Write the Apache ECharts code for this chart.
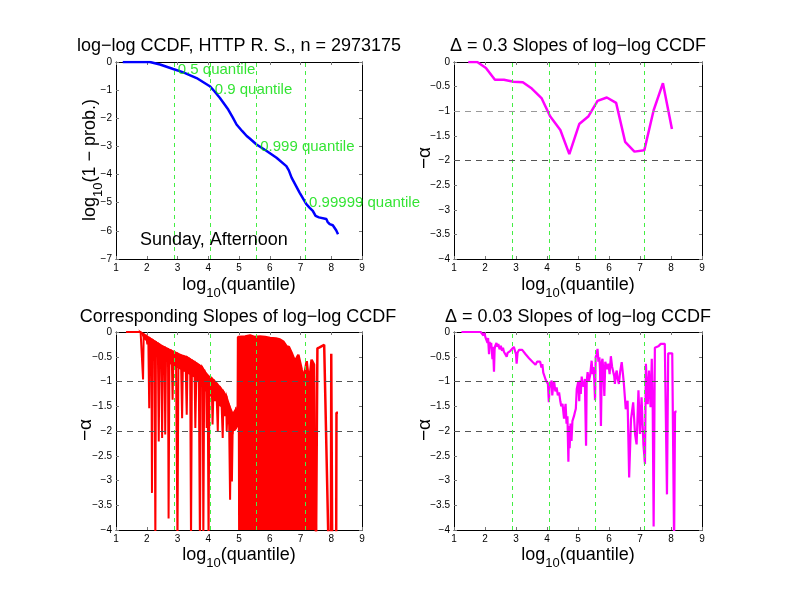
<!DOCTYPE html>
<html><head><meta charset="utf-8">
<script src="https://cdn.jsdelivr.net/npm/echarts@6/dist/echarts.min.js"></script>
<style>html,body{margin:0;padding:0;background:#fff}#c{width:792px;height:612px}</style>
</head><body><div id="c"></div>
<script>
// ---------- data ----------
var xTicks = [1,2,3,4,5,6,7,8,9];
var quantileX = [2.88, 4.08, 5.56, 7.15];
var quantileNames = ['0.5 quantile','0.9 quantile','0.999 quantile','0.99999 quantile'];
var quantileY = [-0.28, -1.0, -3.02, -5.01];
var refLevels = [-1, -2];

var ccdf = [[1.22,0],[1.6,0],[2.10,0],[2.43,-0.09],[2.86,-0.25],[3.19,-0.37],[3.62,-0.57],[4.05,-0.86],
 [4.2,-1.04],[4.38,-1.28],[4.65,-1.69],[4.8,-1.98],[4.92,-2.22],[5.1,-2.45],[5.25,-2.63],[5.35,-2.72],[5.57,-2.93],
 [5.90,-3.16],[6.22,-3.40],[6.54,-3.70],[6.62,-3.85],[6.71,-4.11],[6.97,-4.64],[7.19,-5.05],[7.30,-5.18],
 [7.40,-5.29],[7.49,-5.47],[7.6,-5.52],[7.84,-5.58],[7.88,-5.68],[7.95,-5.76],[8.05,-5.8],[8.11,-5.82],[8.16,-5.98],[8.22,-6.12]];

var slope03 = [[1.46,0],[1.75,0],[2.03,-0.12],[2.32,-0.36],[2.61,-0.36],[2.92,-0.40],[3.22,-0.41],[3.51,-0.54],
 [3.83,-0.74],[4.10,-1.10],[4.43,-1.38],[4.72,-1.87],[5.04,-1.26],[5.34,-1.10],[5.63,-0.79],[5.93,-0.72],
 [6.23,-0.83],[6.52,-1.62],[6.82,-1.82],[7.14,-1.79],[7.44,-0.98],[7.74,-0.43],[8.03,-1.36]];

// raw slopes: solid body (top / bottom edges) of the dense oscillation below x = 5
var bodyX      = [1.33, 1.8, 1.9, 2.0, 2.1, 2.2, 2.3, 2.4, 2.5, 2.6, 2.7, 2.8, 2.9, 3.0, 3.1, 3.2, 3.3, 3.4, 3.5, 3.6, 3.7, 3.8, 3.9, 4.0, 4.1, 4.2, 4.3, 4.4, 4.5, 4.6, 4.7, 4.8, 4.9, 4.96];
var bodyTop    = [0, 0, -0.04, -0.08, -0.12, -0.16, -0.2, -0.24, -0.28, -0.31, -0.34, -0.37, -0.40, -0.43, -0.46, -0.48, -0.50, -0.54, -0.58, -0.62, -0.66, -0.70, -0.80, -0.88, -0.92, -0.98, -1.05, -1.12, -1.2, -1.3, -1.5, -1.65, -1.55, -1.6];
var bodyBottom = [0, 0, -0.1, -0.18, -0.26, -0.33, -0.4, -0.46, -0.52, -0.57, -0.61, -0.64, -0.68, -0.71, -0.74, -0.77, -0.8, -0.84, -0.88, -0.93, -0.98, -1.03, -1.12, -1.2, -1.27, -1.33, -1.42, -1.48, -1.58, -1.68, -1.85, -2.0, -1.95, -1.9];
// raw slopes: individual downward spikes below x = 5
var slopeRawA = [[1.33,0],[1.80,0],[1.85,-0.03],[1.88,-0.96],[1.90,-0.05],[1.95,-0.15],[1.98,-0.06],[2.02,-0.25],[2.05,-0.1],
 [2.08,-1.54],[2.10,-0.12],[2.13,-0.35],[2.15,-0.13],[2.17,-3.25],[2.19,-0.15],[2.22,-0.4],[2.25,-0.17],[2.28,-4.3],
 [2.30,-0.19],[2.33,-0.45],[2.36,-0.21],[2.39,-2.21],[2.42,-0.24],[2.45,-0.5],[2.47,-0.26],[2.50,-2.14],[2.53,-0.28],
 [2.56,-0.55],[2.58,-0.30],[2.60,-2.07],[2.63,-0.32],[2.67,-0.6],[2.69,-0.34],[2.71,-3.77],[2.74,-0.36],[2.78,-0.65],
 [2.81,-0.38],[2.84,-1.37],[2.87,-0.40],[2.92,-0.7],[2.95,-0.42],[3.0,-4.3],[3.03,-0.44],[3.08,-0.75],[3.11,-0.46],
 [3.15,-1.74],[3.18,-0.48],[3.22,-0.8],[3.26,-0.50],[3.30,-1.67],[3.33,-0.52],[3.38,-0.85],[3.41,-0.54],[3.44,-4.3],
 [3.47,-0.56],[3.52,-0.9],[3.55,-0.58],[3.58,-1.94],[3.62,-0.62],[3.66,-1.0],[3.69,-0.65],[3.73,-4.3],[3.76,-0.68],
 [3.80,-1.1],[3.82,-0.72],[3.84,-4.3],[3.87,-0.76],[3.91,-1.2],[3.93,-0.85],[3.95,-1.94],[3.98,-0.88],[4.01,-4.3],
 [4.04,-0.9],[4.08,-1.3],[4.11,-0.92],[4.14,-1.87],[4.18,-0.98],[4.22,-1.4],[4.26,-1.05],[4.31,-2.0],[4.34,-1.1],
 [4.38,-1.5],[4.42,-1.18],[4.47,-2.14],[4.50,-1.22],[4.55,-1.7],[4.58,-1.27],[4.60,-2.0],[4.64,-1.4],[4.68,-1.9],
 [4.71,-3.39],[4.74,-1.67],[4.77,-3.02],[4.80,-1.7],[4.85,-2.0],[4.88,-1.6],[4.92,-1.74],[4.95,-1.6]];
// raw slopes: upper edge of the fully filled band 5 .. 7.5
var slopeRawDense = [[4.96,-1.6],[4.97,-0.1],[5.03,-0.12],[5.2,-0.09],[5.36,-0.07],[5.5,-0.1],[5.68,-0.09],[5.85,-0.1],
 [6.01,-0.12],[6.2,-0.13],[6.33,-0.15],[6.45,-0.2],[6.55,-0.29],[6.62,-0.3],[6.71,-0.42],[6.82,-0.59],[6.93,-0.46],
 [7.04,-0.76],[7.11,-0.93],[7.20,-0.59],[7.28,-1.03],[7.36,-0.56],[7.44,-0.66],[7.50,-0.66],[7.505,-4.3]];
var slopeRawTail = [[7.505,-4.3],[7.55,-0.33],[7.62,-0.31],[7.77,-0.26],[7.91,-4.3],[7.99,-4.3],[8.00,-0.44],[8.03,-4.3],
 [8.16,-4.3],[8.17,-1.63],[8.22,-1.63]];

var slope003 = [[1.24,0],[1.86,0],[1.90,-0.03],[1.95,-0.07],[1.98,-0.02],[2.02,-0.12],[2.05,-0.08],[2.08,-0.22],[2.10,-0.12],
 [2.13,-0.45],[2.15,-0.2],[2.18,-0.32],[2.2,-0.22],[2.24,-0.55],[2.26,-0.3],[2.29,-0.8],[2.31,-0.35],[2.33,-0.28],[2.37,-0.22],
 [2.40,-0.3],[2.43,-0.24],[2.47,-0.35],[2.51,-0.28],[2.55,-0.38],[2.58,-0.32],[2.61,-0.40],[2.65,-0.36],[2.70,-0.50],[2.73,-0.42],
 [2.77,-0.46],[2.82,-0.38],[2.88,-0.36],[2.93,-0.30],[2.96,-0.32],[3.00,-0.45],[3.02,-0.64],[3.05,-0.42],[3.10,-0.36],[3.15,-0.33],
 [3.20,-0.36],[3.25,-0.34],[3.31,-0.45],[3.36,-0.42],[3.42,-0.53],[3.47,-0.50],[3.53,-0.6],[3.58,-0.57],[3.63,-0.66],[3.68,-0.60],
 [3.74,-0.64],[3.78,-0.60],[3.82,-0.72],[3.85,-0.65],[3.88,-0.82],[3.92,-0.78],[3.96,-0.97],[4.0,-0.95],[4.03,-1.05],[4.06,-1.42],
 [4.09,-1.0],[4.12,-1.12],[4.15,-0.98],[4.17,-1.28],[4.20,-1.08],[4.23,-1.0],[4.27,-1.2],[4.31,-1.12],[4.35,-1.28],[4.39,-1.22],
 [4.43,-1.4],[4.46,-1.5],[4.50,-1.45],[4.55,-1.75],[4.58,-1.55],[4.60,-1.45],[4.63,-1.85],[4.66,-1.7],[4.69,-2.62],[4.71,-1.9],
 [4.73,-2.35],[4.76,-1.85],[4.79,-2.2],[4.82,-1.8],[4.85,-1.78],[4.87,-1.70],[4.90,-1.62],[4.93,-1.55],[4.96,-1.15],[5.01,-1.0],
 [5.04,-1.4],[5.06,-0.98],[5.09,-1.25],[5.12,-0.9],[5.14,-1.05],[5.18,-1.1],[5.22,-0.95],[5.26,-2.30],[5.28,-1.0],[5.31,-0.81],
 [5.35,-1.0],[5.39,-0.88],[5.42,-0.7],[5.44,-0.58],[5.47,-0.85],[5.49,-0.71],[5.52,-0.9],[5.55,-1.38],[5.57,-0.51],[5.60,-0.45],
 [5.63,-0.34],[5.66,-0.6],[5.69,-0.51],[5.71,-0.75],[5.74,-1.90],[5.77,-0.6],[5.79,-0.54],[5.82,-0.8],[5.85,-1.29],[5.88,-0.6],
 [5.90,-0.58],[5.94,-0.75],[5.98,-0.64],[6.02,-0.85],[6.06,-0.49],[6.10,-0.7],[6.14,-0.71],[6.17,-0.9],[6.19,-1.05],[6.22,-0.85],
 [6.25,-0.78],[6.28,-0.95],[6.32,-1.05],[6.36,-0.8],[6.41,-0.61],[6.45,-0.85],[6.48,-1.05],[6.51,-1.3],[6.54,-1.56],[6.60,-1.39],
 [6.65,-2.94],[6.71,-1.76],[6.78,-1.42],[6.84,-2.06],[6.89,-2.27],[6.95,-1.18],[7.00,-2.06],[7.05,-1.32],[7.11,-2.27],[7.16,-2.67],
 [7.19,-0.64],[7.25,-1.46],[7.29,-0.78],[7.34,-1.52],[7.38,-0.54],[7.41,-1.52],[7.44,-3.93],[7.48,-0.32],[7.59,-0.29],
 [7.67,-0.24],[7.80,-0.24],[7.87,-3.28],[7.91,-0.43],[8.04,-0.43],[8.10,-4.3],[8.13,-1.61],[8.18,-1.61]];

// ---------- layout / style ----------
var FONT = 'Liberation Sans';
var grids = [
  {left:116, top:62, width:246, height:197},
  {left:454, top:62, width:248, height:197},
  {left:116, top:332, width:246, height:198},
  {left:454, top:332, width:248, height:198}
];
function fmt(v){ return String(v).replace('-', '\u2212'); }
var xAxes = [], yAxes = [];
grids.forEach(function(g, i){
  var ymin = i === 0 ? -7 : -4;
  var yint = i === 0 ? 1 : 0.5;
  ['bottom','top'].forEach(function(pos){
    xAxes.push({type:'value', gridIndex:i, min:1, max:9, interval:1, position:pos, z:0,
      axisLine:{show:true, onZero:false, lineStyle:{color:'#000', width:1}},
      axisTick:{show:true, inside:true, length:3, lineStyle:{color:'#777'}},
      axisLabel:{show:pos==='bottom', color:'#000', fontSize:10, fontFamily:FONT, margin:4, formatter:fmt},
      splitLine:{show:false}});
  });
  ['left','right'].forEach(function(pos){
    yAxes.push({type:'value', gridIndex:i, min:ymin, max:0, interval:yint, position:pos, z:0,
      axisLine:{show:true, onZero:false, lineStyle:{color:'#000', width:1}},
      axisTick:{show:true, inside:true, length:3, lineStyle:{color:'#777'}},
      axisLabel:{show:pos==='left', color:'#000', fontSize:10, fontFamily:FONT, margin:4, formatter:fmt},
      splitLine:{show:false}});
  });
});

function qLines(){
  return {silent:true, symbol:'none', label:{show:false}, z:6,
    lineStyle:{color:'#44ee44', type:[4,4], width:1},
    data: quantileX.map(function(x){ return {xAxis:x}; })};
}
function refLines(colors){
  return {silent:true, symbol:'none', label:{show:false}, z:6,
    data: refLevels.map(function(y, k){ return {yAxis:y, lineStyle:{color:colors[k], type:[6,5], width:1}}; })};
}
function line(i, data, color, extra){
  var s = {type:'line', xAxisIndex:2*i, yAxisIndex:2*i, data:data, showSymbol:false, symbol:'none',
    animation:false, clip:true, lineStyle:{color:color, width:2.5}, z:3};
  for (var k in extra) s[k] = extra[k];
  return s;
}
// band between two edges, drawn as quads through the axis scales
var bodySeries = {
  type:'custom', xAxisIndex:4, yAxisIndex:4, z:3, animation:false, silent:true,
  data: bodyX.map(function(x,k){ return [x, bodyTop[k], bodyBottom[k]]; }),
  renderItem: function(params, api){
    var i = params.dataIndexInside;
    if (i >= params.dataInsideLength - 1) return null;
    var a1 = api.coord([api.value(0,i), api.value(1,i)]);
    var a2 = api.coord([api.value(0,i+1), api.value(1,i+1)]);
    var b2 = api.coord([api.value(0,i+1), api.value(2,i+1)]);
    var b1 = api.coord([api.value(0,i), api.value(2,i)]);
    return {type:'polygon', shape:{points:[a1,a2,b2,b1]},
      style:{fill:'#ff0000', stroke:'#ff0000', lineWidth:1.5}};
  }
};

var series = [
  line(0, ccdf, '#0000ff', {markLine: qLines()}),
  {type:'scatter', xAxisIndex:0, yAxisIndex:0, symbolSize:0, animation:false, silent:true,
    data: quantileX.map(function(x,k){ return {value:[x, quantileY[k]], name:quantileNames[k]}; }),
    label:{show:true, position:'right', distance:4, formatter:'{b}', color:'#00dd00', fontSize:15, fontFamily:FONT}, z:5},
  line(1, slope03, '#ff00ff', {markLine: qLines()}),
  {type:'line', xAxisIndex:2, yAxisIndex:2, data:[], markLine: refLines(['#999','#555'])},
  {type:'line', xAxisIndex:6, yAxisIndex:6, data:[], markLine: refLines(['#555','#555'])},
  {type:'line', xAxisIndex:4, yAxisIndex:4, data:[], markLine: refLines(['#555','#555']), z:6},
  bodySeries,
  line(2, slopeRawA, '#ff0000', {markLine: qLines(), lineStyle:{width:2, color:'#ff0000'}}),
  line(2, slopeRawDense, '#ff0000', {areaStyle:{color:'#ff0000', opacity:1, origin:'start'}}),
  line(2, slopeRawTail, '#ff0000', {}),
  line(3, slope003, '#ff00ff', {markLine: qLines(), lineStyle:{width:2.2, color:'#ff00ff'}})
];

function sub(main1, main2){ return '{a|' + main1 + '}{s|10}{a|' + main2 + '}'; }
var rich = {a:{fontSize:18, fontFamily:FONT, color:'#000', lineHeight:19, verticalAlign:'top'},
            s:{fontSize:13, fontFamily:FONT, color:'#000', lineHeight:13, padding:[10,0,0,0], verticalAlign:'top'}};
function T(x, y, text, size, rot){
  return {type:'text', x:x, y:y, rotation: rot || 0, z:10,
    style:{text:text, fontSize:size, fontFamily:FONT, fill:'#000', align:'center', verticalAlign:'middle'}};
}
function R(x, y, text, rot){
  return {type:'text', x:x, y:y, rotation: rot || 0, z:10,
    style:{text:text, rich:rich, align:'center', verticalAlign:'middle'}};
}
var graphic = [
  T(239, 46, 'log\u2212log CCDF, HTTP R. S., n = 2973175', 18),
  T(578, 46, '\u0394 = 0.3 Slopes of log\u2212log CCDF', 18),
  T(238, 317, 'Corresponding Slopes of log\u2212log CCDF', 18),
  T(578, 317, '\u0394 = 0.03 Slopes of log\u2212log CCDF', 18),
  R(239, 286, sub('log','(quantile)')),
  R(578, 286, sub('log','(quantile)')),
  R(239, 556, sub('log','(quantile)')),
  R(578, 556, sub('log','(quantile)')),
  R(91, 160, sub('log','(1 \u2212 prob.)'), Math.PI/2),
  T(425, 158, '\u2212\u03b1', 19, Math.PI/2),
  T(86, 430, '\u2212\u03b1', 19, Math.PI/2),
  T(425, 430, '\u2212\u03b1', 19, Math.PI/2),
  {type:'text', x:140, y:240, z:10, style:{text:'Sunday, Afternoon', fontSize:18, fontFamily:FONT, fill:'#000', align:'left', verticalAlign:'middle'}}
];

var chart = echarts.init(document.getElementById('c'), null, {renderer:'canvas'});
chart.setOption({animation:false, backgroundColor:'#fff', grid:grids, xAxis:xAxes, yAxis:yAxes, series:series, graphic:graphic});
</script></body></html>
